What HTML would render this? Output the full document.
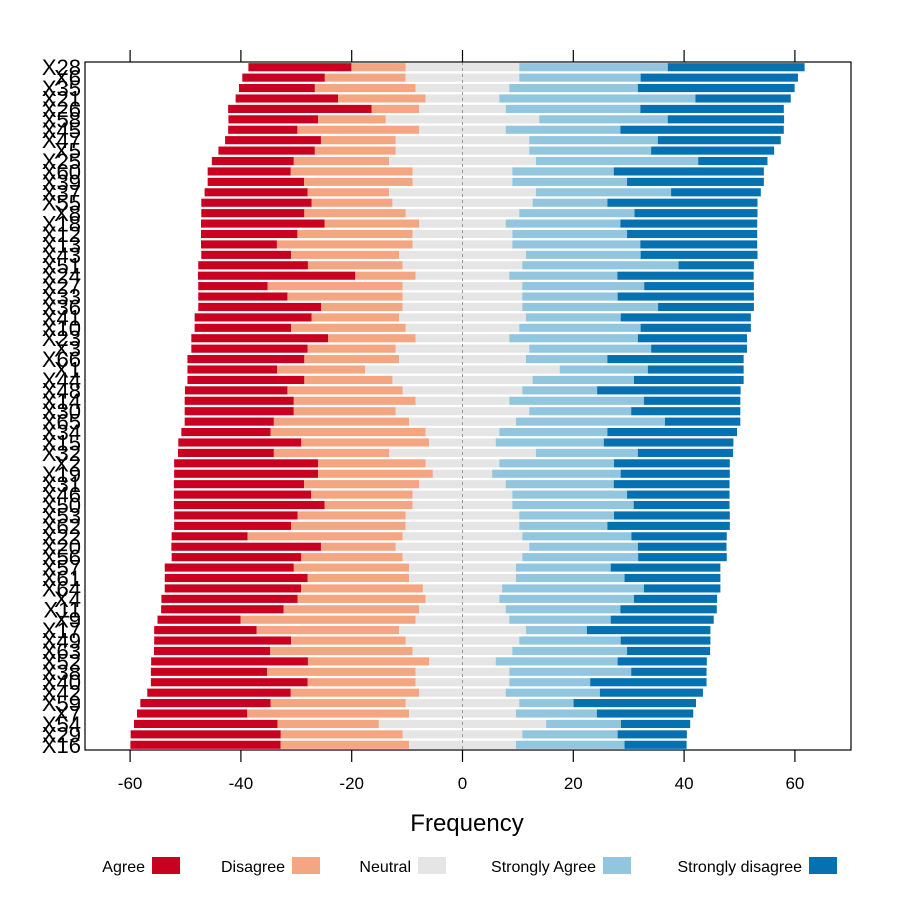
<!DOCTYPE html>
<html><head><meta charset="utf-8"><style>
html,body{margin:0;padding:0;background:#fff;}
svg{display:block;font-family:"Liberation Sans",Arial,sans-serif;}
</style></head><body>
<svg id="chart" width="900" height="900" viewBox="0 0 900 900" xmlns="http://www.w3.org/2000/svg"></svg>
<script>
const labels=["X28","X6","X35","X21","X26","X58","X45","X47","X5","X25","X60","X39","X37","X55","X8","X18","X12","X13","X43","X51","X24","X27","X33","X36","X41","X10","X23","X3","X66","X1","X44","X48","X14","X30","X65","X34","X15","X32","X2","X19","X31","X46","X50","X53","X62","X22","X20","X56","X57","X61","X64","X4","X11","X9","X17","X49","X63","X52","X38","X40","X42","X59","X7","X54","X29","X16"];
const agree=[18.6,14.9,13.7,18.5,25.9,16.2,12.5,17.3,17.4,14.8,15,17.4,18.6,19.9,18.6,22.3,17.4,13.7,16.2,19.8,28.4,12.5,16.1,22.2,21.1,17.4,24.7,21,21.1,16.2,21.1,18.5,19.7,19.7,16.1,16.1,22.2,17.3,26,26,23.5,24.8,27.2,22.3,21.1,13.7,27,23.4,23.3,25.8,24.6,24.6,22.1,15,18.5,24.7,21,28.3,21,28.3,25.9,23.5,19.9,25.9,27.1,27.1];
const disagree=[9.8,14.6,18.2,15.8,8.6,12.2,22,13.5,14.6,17.2,22,19.6,14.7,14.6,18.3,17.1,20.8,24.5,19.5,17.1,10.9,24.4,20.8,14.7,15.8,20.7,15.8,15.9,17.1,15.9,15.9,20.8,22,18.4,24.4,28,23.1,20.8,19.4,20.7,20.8,18.3,15.9,19.5,20.7,28,13.5,18.3,20.8,18.3,22,23.1,24.5,31.6,25.7,20.7,25.7,21.9,26.8,19.5,23.2,24.4,29.2,18.3,22,23.2];
const neutral=[20.5,20.5,16.9,13.3,15.6,27.7,15.6,24.1,24.1,26.5,18,18,26.5,25.3,20.5,15.6,18,18,22.9,21.6,16.9,21.6,21.6,21.6,22.9,20.5,16.9,24.1,22.9,35.1,25.3,21.6,16.9,24.1,19.3,13.3,12,26.5,13.3,10.7,15.6,18,18,20.5,20.5,21.6,24.1,21.6,19.3,19.3,14.3,13.3,15.6,16.9,22.9,20.5,18,12,16.9,16.9,15.6,20.5,19.3,30.2,21.6,19.3];
const stronglyAgree=[26.8,21.9,23.2,35.4,24.3,23.2,20.7,23.2,22,29.3,18.3,20.7,24.4,13.5,20.8,20.7,20.7,23.1,20.7,28.2,19.5,22,17.2,24.5,17.1,21.9,23.2,22,14.7,15.9,18.3,13.5,24.3,18.4,26.9,19.5,19.5,18.4,20.7,23.2,19.5,20.7,21.9,17.1,15.9,19.7,19.6,20.9,17.1,19.6,25.6,24.3,20.7,18.3,11,18.3,20.7,22,22,14.6,17,9.8,14.6,13.5,17.2,19.6];
const stronglyDisagree=[24.7,28.4,28.3,17.2,25.9,21,29.5,22.2,22.2,12.5,27.1,24.7,16.2,27.1,22.2,24.7,23.5,21.1,21.1,13.6,24.6,19.8,24.6,17.3,23.5,19.9,19.7,17.3,24.6,17.3,19.8,25.9,17.4,19.7,13.6,23.4,23.4,17.2,20.9,19.7,20.9,18.5,17.3,20.9,22.1,17.2,16,16,19.8,17.3,13.8,15,17.4,18.6,22.3,16.2,15,16.1,13.6,21,18.6,22.1,17.4,12.5,12.5,11.2];
const xTicks=[-60,-40,-20,0,20,40,60];
const legendNames=["Agree","Disagree","Neutral","Strongly Agree","Strongly disagree"];
const colors=["#CA0020","#F4A582","#E5E5E5","#92C5DE","#0571B0"];

const NS="http://www.w3.org/2000/svg";
const svg=document.getElementById('chart');
const L=85,R=851,T=62,B=750;
const x0=462.5,k=5.54;
function xs(v){return x0+v*k;}
const n=labels.length;
const pitch=(B-T)/n;
function yc(i){return T+pitch*(i+0.5);}
function mk(tag,attrs,parent){const e=document.createElementNS(NS,tag);for(const a in attrs)e.setAttribute(a,attrs[a]);(parent||svg).appendChild(e);return e;}

const gBars=mk('g',{});


const series=[agree,disagree,neutral,stronglyAgree,stronglyDisagree];
const slugs=['agree','disagree','neutral','strongly-agree','strongly-disagree'];
const bh=pitch*0.78;
for(let i=0;i<n;i++){
  const hn=neutral[i]/2;
  const segs=[
    [-hn-disagree[i]-agree[i],-hn-disagree[i]],
    [-hn-disagree[i],-hn],
    [-hn,hn],
    [hn,hn+stronglyAgree[i]],
    [hn+stronglyAgree[i],hn+stronglyAgree[i]+stronglyDisagree[i]]
  ];
  for(let s=0;s<5;s++){
    const r=mk('rect',{x:xs(segs[s][0]),y:yc(i)-bh/2,width:xs(segs[s][1])-xs(segs[s][0]),height:bh,fill:colors[s]},gBars);
    
    
  }
}
const zl=mk('line',{x1:xs(0),x2:xs(0),y1:T,y2:B,stroke:'#999','stroke-width':1,'stroke-dasharray':'3,3'});


const frame=mk('rect',{x:L,y:T,width:R-L,height:B-T,fill:'none',stroke:'#000','stroke-width':1.2});



for(let i=0;i<n;i++){
  const t=mk('text',{x:81,y:yc(i)+8,'text-anchor':'end','font-size':22,fill:'#000'});
  t.textContent=labels[i];
  
  
}
for(const v of xTicks){
  const t1=mk('line',{x1:xs(v),x2:xs(v),y1:B,y2:B+12,stroke:'#000','stroke-width':1.2});
  
  
  const t2=mk('line',{x1:xs(v),x2:xs(v),y1:T-12,y2:T,stroke:'#000','stroke-width':1.2});
  
  
  const tl=mk('text',{x:xs(v),y:789,'text-anchor':'middle','font-size':17,fill:'#000'});
  tl.textContent=v;
  
  
}
const title=mk('text',{x:467,y:831,'text-anchor':'middle','font-size':24,fill:'#000'});
title.textContent='Frequency';



const legendTextEnd=[145,285,411,596,802];
for(let s=0;s<5;s++){
  const g=mk('g',{});
  
  
  const t=mk('text',{x:legendTextEnd[s],y:872,'text-anchor':'end','font-size':16,fill:'#000'},g);
  t.textContent=legendNames[s];
  const r=mk('rect',{x:legendTextEnd[s]+7,y:857,width:28,height:17,fill:colors[s]},g);
  
  
}
</script>
</body></html>
